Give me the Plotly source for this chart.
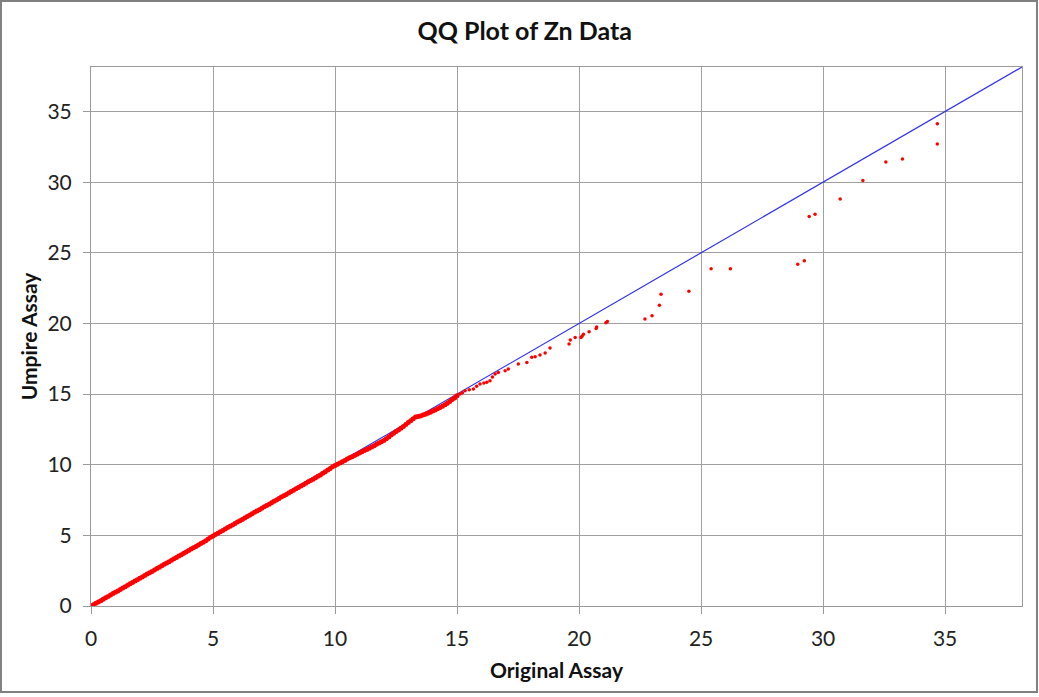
import plotly.graph_objects as go

# Dense part of the QQ plot (Original Assay vs Umpire Assay)
orig_dense = [
    0.0, 0.1, 0.2, 0.3, 0.4, 0.5, 0.6, 0.7, 0.8, 0.9,
    1.0, 1.1, 1.2, 1.3, 1.4, 1.5, 1.6, 1.7, 1.8, 1.9,
    2.0, 2.1, 2.2, 2.3, 2.4, 2.5, 2.6, 2.7, 2.8, 2.9,
    3.0, 3.1, 3.2, 3.3, 3.4, 3.5, 3.6, 3.7, 3.8, 3.9,
    4.0, 4.1, 4.2, 4.3, 4.4, 4.5, 4.6, 4.7, 4.8, 4.9,
    5.0, 5.1, 5.2, 5.3, 5.4, 5.5, 5.6, 5.7, 5.8, 5.9,
    6.0, 6.1, 6.2, 6.3, 6.4, 6.5, 6.6, 6.7, 6.8, 6.9,
    7.0, 7.1, 7.2, 7.3, 7.4, 7.5, 7.6, 7.7, 7.8, 7.9,
    8.0, 8.1, 8.2, 8.3, 8.4, 8.5, 8.6, 8.7, 8.8, 8.9,
    9.0, 9.1, 9.2, 9.3, 9.4, 9.5, 9.6, 9.7, 9.8, 9.9,
    10.0, 10.1, 10.2, 10.3, 10.4, 10.5, 10.6, 10.7, 10.8, 10.9,
    11.0, 11.1, 11.2, 11.3, 11.4, 11.5, 11.6, 11.7, 11.8, 11.9,
    12.0, 12.1, 12.2, 12.3, 12.4, 12.5, 12.6, 12.7, 12.8, 12.9,
    13.0, 13.1, 13.2, 13.3, 13.4, 13.5, 13.6, 13.7, 13.8, 13.9,
    14.0, 14.1, 14.2, 14.3, 14.4, 14.5, 14.6, 14.7, 14.8, 14.9,
    15.0,
]
umpire_dense = [
    0.00, 0.09, 0.19, 0.29, 0.38, 0.48, 0.58, 0.68, 0.78, 0.88,
    0.98, 1.07, 1.17, 1.27, 1.37, 1.47, 1.57, 1.67, 1.77, 1.86,
    1.96, 2.06, 2.16, 2.26, 2.36, 2.45, 2.55, 2.65, 2.75, 2.85,
    2.95, 3.05, 3.14, 3.24, 3.34, 3.44, 3.54, 3.63, 3.73, 3.83,
    3.93, 4.03, 4.13, 4.22, 4.32, 4.42, 4.52, 4.62, 4.74, 4.86,
    4.96, 5.06, 5.15, 5.25, 5.35, 5.45, 5.55, 5.64, 5.74, 5.84,
    5.94, 6.04, 6.13, 6.23, 6.33, 6.43, 6.53, 6.63, 6.72, 6.82,
    6.92, 7.02, 7.12, 7.21, 7.31, 7.41, 7.51, 7.61, 7.71, 7.80,
    7.90, 8.00, 8.10, 8.20, 8.30, 8.39, 8.49, 8.59, 8.69, 8.79,
    8.89, 8.98, 9.08, 9.18, 9.28, 9.39, 9.51, 9.62, 9.74, 9.86,
    9.95, 10.03, 10.12, 10.21, 10.30, 10.40, 10.49, 10.57, 10.66, 10.74,
    10.83, 10.92, 11.00, 11.08, 11.17, 11.26, 11.35, 11.44, 11.54, 11.63,
    11.72, 11.83, 11.96, 12.10, 12.22, 12.35, 12.46, 12.58, 12.70, 12.84,
    12.98, 13.12, 13.26, 13.38, 13.42, 13.45, 13.52, 13.58, 13.65, 13.72,
    13.80, 13.88, 13.96, 14.05, 14.14, 14.24, 14.35, 14.48, 14.62, 14.72,
    14.88,
]

# Sparse upper tail
orig_tail = [
    15.12, 15.22, 15.33, 15.50, 15.67, 15.80, 15.94, 16.10, 16.22, 16.35,
    16.45, 16.56, 16.69, 16.97, 17.10, 17.51, 17.86, 18.06, 18.20, 18.40,
    18.61, 18.81, 19.59, 19.64, 19.84, 20.08, 20.12, 20.18, 20.41, 20.70,
    20.72, 21.10, 21.16, 22.70, 22.99, 23.29, 23.36, 24.50, 25.41, 26.20,
    28.96, 29.23, 29.43, 29.67, 30.70, 31.63, 32.57, 33.25, 34.68, 34.68,
]
umpire_tail = [
    15.01, 15.10, 15.24, 15.30, 15.36, 15.55, 15.72, 15.78, 15.83, 15.95,
    16.20, 16.42, 16.53, 16.65, 16.77, 17.13, 17.24, 17.60, 17.64, 17.76,
    17.90, 18.26, 18.54, 18.82, 19.00, 19.00, 19.10, 19.24, 19.41, 19.64,
    19.74, 20.04, 20.13, 20.32, 20.54, 21.29, 22.07, 22.28, 23.87, 23.87,
    24.18, 24.44, 27.57, 27.73, 28.80, 30.11, 31.43, 31.64, 32.70, 34.14,
]

# 1:1 reference line
ref_line = [0, 38.15]
axis_range = [0, 38.15]
tick_vals = [0, 5, 10, 15, 20, 25, 30, 35]

FONT = "Lato, 'Open Sans', sans-serif"

fig = go.Figure()
fig.add_trace(go.Scatter(
    x=ref_line, y=ref_line, mode="lines",
    line=dict(color="#3333ee", width=1.2), hoverinfo="skip", showlegend=False,
))
fig.add_trace(go.Scatter(
    x=orig_dense, y=umpire_dense, mode="markers",
    marker=dict(color="#ff0000", size=5, line=dict(width=0)), showlegend=False,
))
fig.add_trace(go.Scatter(
    x=orig_tail, y=umpire_tail, mode="markers",
    marker=dict(color="#ff0000", size=3.5, line=dict(width=0)), showlegend=False,
))

axis_common = dict(
    range=axis_range, tickvals=tick_vals, ticks="outside", ticklen=7,
    tickcolor="#9a9a9a", showgrid=True, gridcolor="#a0a0a0", gridwidth=1,
    showline=True, linecolor="#9a9a9a", linewidth=1, mirror=True,
    zeroline=False, automargin=False, ticklabelstandoff=7,
    tickfont=dict(family=FONT, size=21, color="#222"),
)

fig.update_layout(
    width=1039, height=697,
    margin=dict(l=91, r=17, t=67, b=91),
    paper_bgcolor="white", plot_bgcolor="white",
    title=dict(text="<b>QQ Plot of Zn Data</b>", x=0.505, xanchor="center",
               y=1 - 31 / 697, yanchor="middle",
               font=dict(family=FONT, size=25, color="#111")),
    xaxis=dict(axis_common, title=dict(text="<b>Original Assay</b>", standoff=14,
               font=dict(family=FONT, size=21, color="#111"))),
    yaxis=dict(axis_common, title=dict(text="<b>Umpire Assay</b>", standoff=4,
               font=dict(family=FONT, size=21, color="#111"))),
    shapes=[dict(type="rect", xref="paper", yref="paper",
                 x0=-0.0967, x1=1.0161, y0=-0.1596, y1=1.1225,
                 line=dict(color="#808080", width=2), fillcolor="rgba(0,0,0,0)",
                 layer="below")],
)

fig.write_html("out.html", config={"displayModeBar": False},
               post_script="document.body.style.margin='0';")
